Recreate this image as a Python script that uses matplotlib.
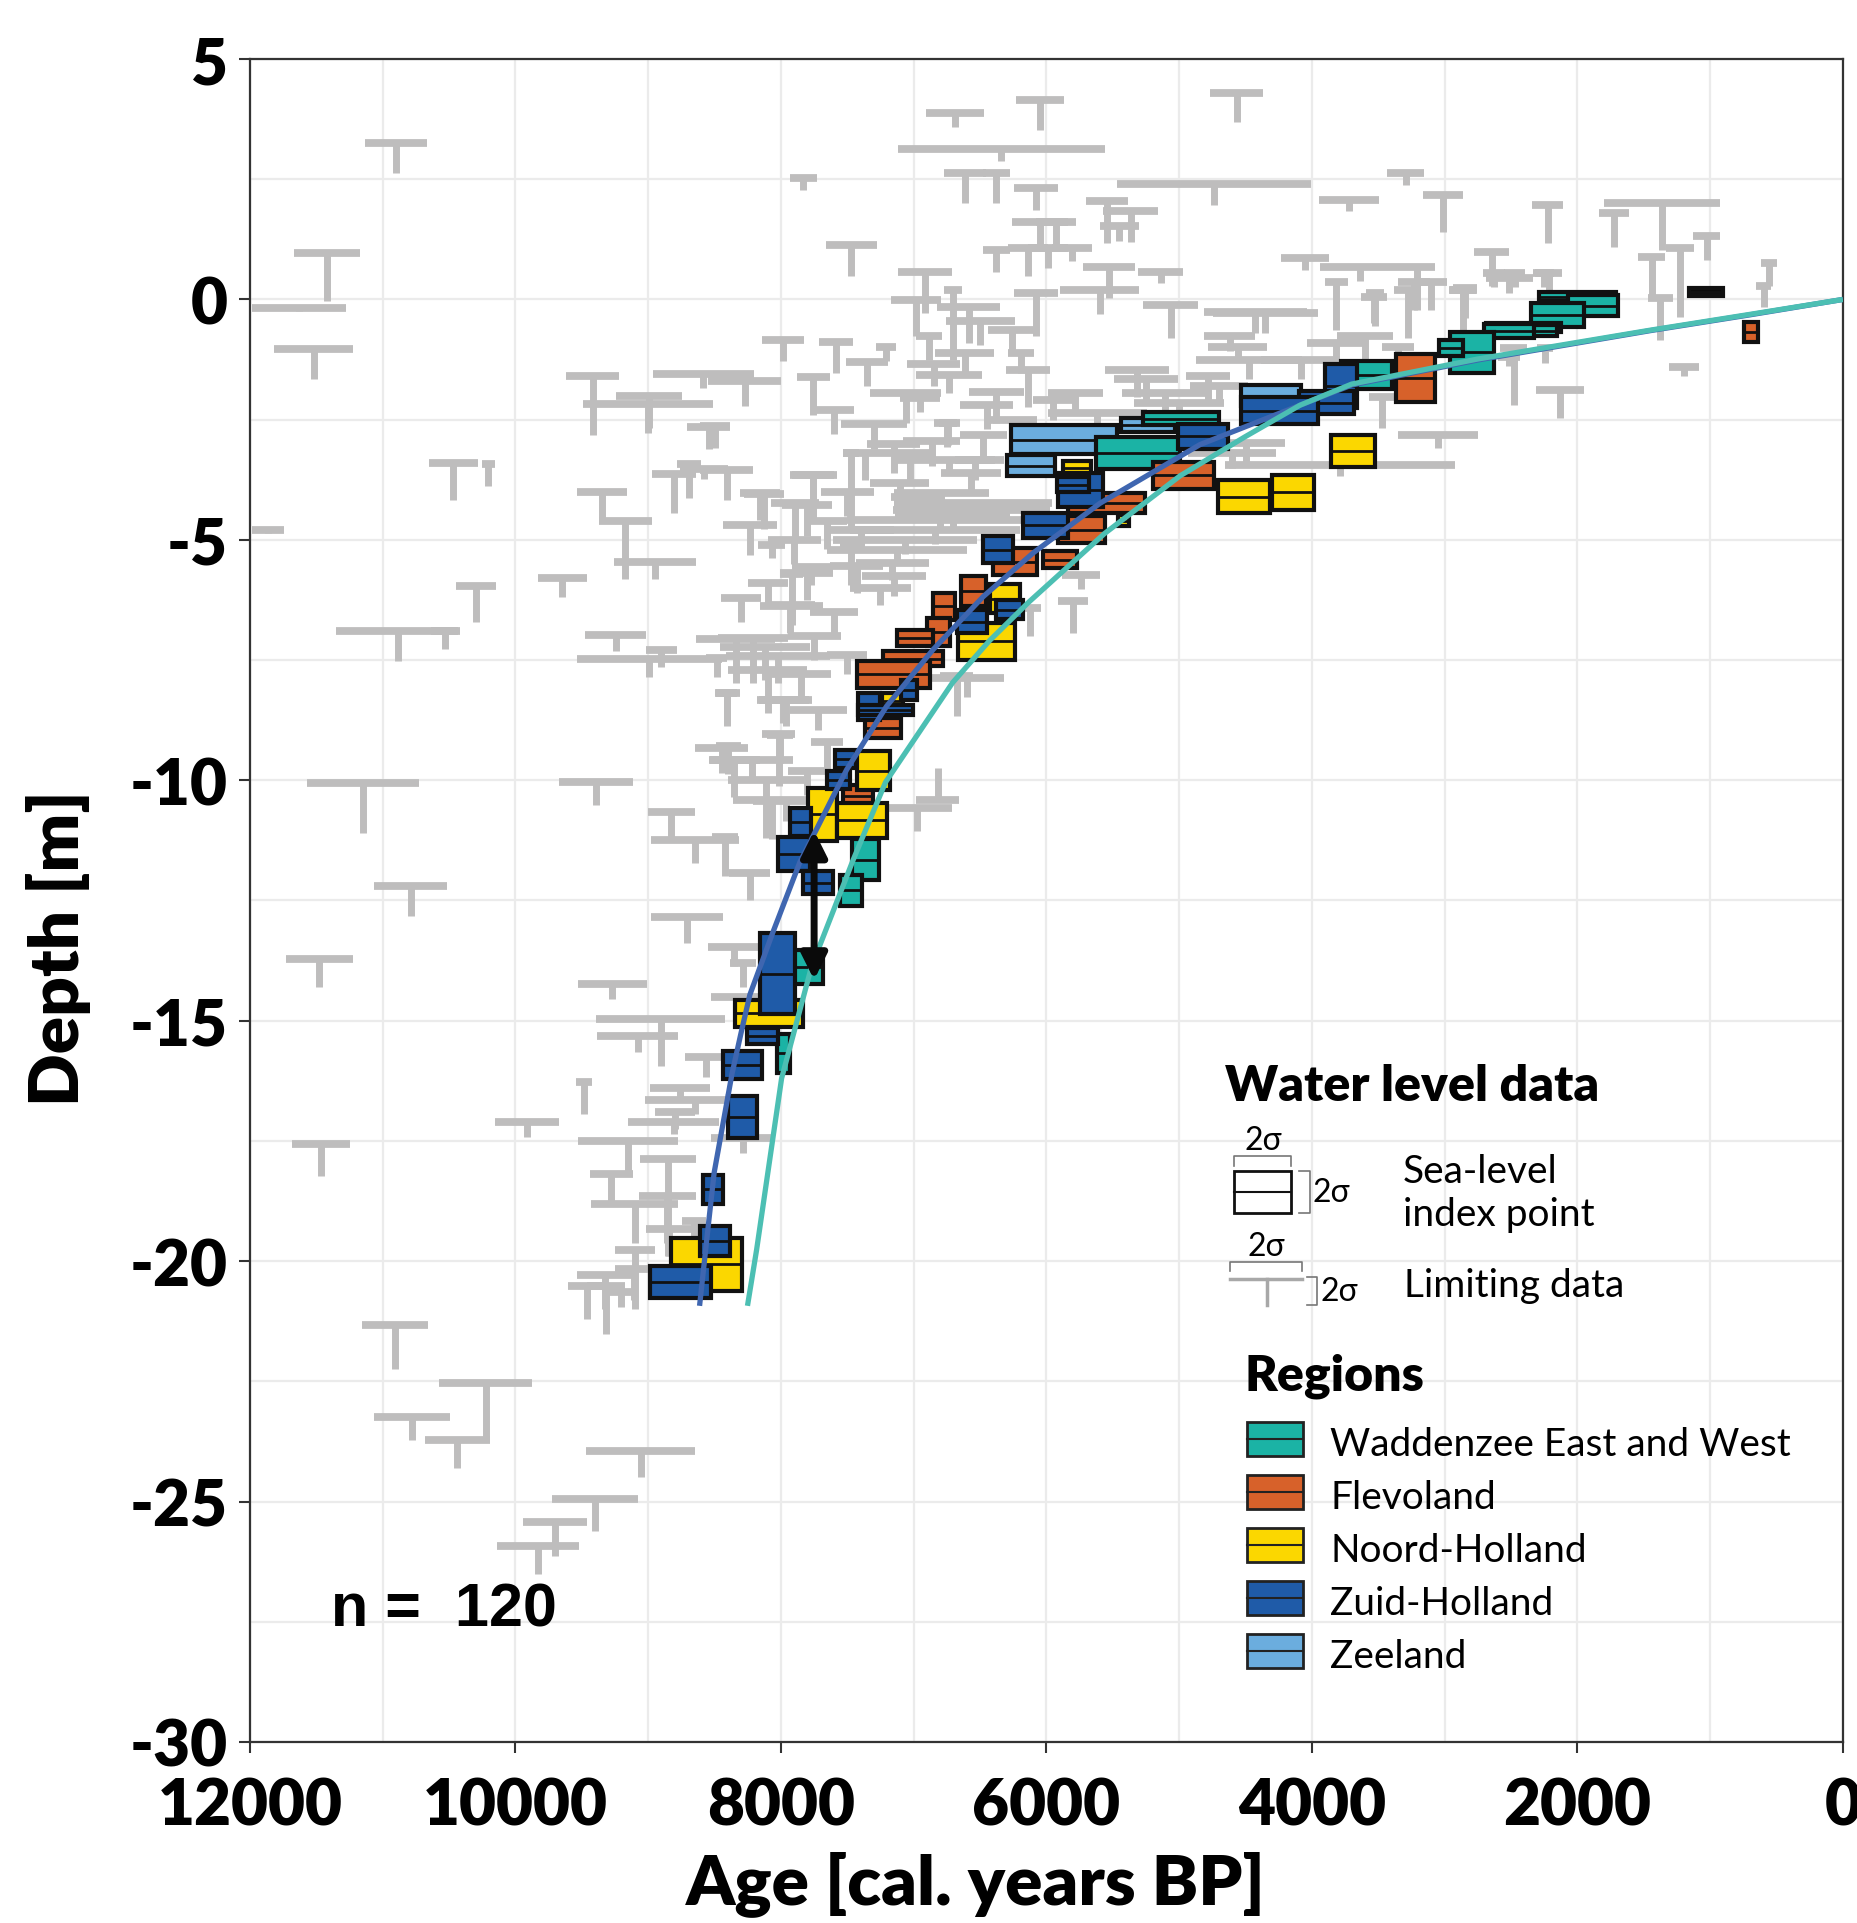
import numpy as np
import matplotlib.pyplot as plt
from matplotlib.patches import Rectangle

plt.rcParams['font.family'] = ['Lato', 'DejaVu Sans']
plt.rcParams['axes.unicode_minus'] = False

# limiting data (age centre, age half range, top depth, stem length)
lim_upper = [
    (6050, 180, 4.15, 0.63), (4565, 200, 4.29, 0.59), (6690, 220, 3.87, 0.28),
    (6340, 780, 3.12, 0.25), (10900, 230, 3.26, 0.62), (7830, 105, 2.53, 0.26),
    (6613, 156, 2.62, 0.62), (6377, 104, 2.62, 0.62), (6079, 164, 2.31, 0.45),
    (4738, 730, 2.40, 0.44), (3293, 139, 2.62, 0.24), (3721, 228, 2.07, 0.24),
    (3013, 149, 2.17, 0.76), (5544, 156, 2.05, 0.88), (5364, 208, 1.83, 0.64),
    (5450, 150, 1.52, 0.30), (6049, 208, 1.62, 0.62), (5930, 150, 1.62, 0.62),
    (6139, 150, 1.07, 0.59), (5989, 150, 1.07, 0.42), (5810, 150, 1.07, 0.28),
    (6377, 104, 1.03, 0.45), (7470, 190, 1.13, 0.64), (11420, 250, 0.96, 0.99),
    (11630, 355, -0.17, 0.06), (11520, 300, -1.03, 0.63), (6915, 202, 0.58, 0.86),
    (5529, 198, 0.68, 0.65), (5140, 168, 0.58, 0.24), (4053, 179, 0.86, 0.25),
    (3638, 298, 0.68, 0.30), (3205, 134, 0.68, 0.90), (3815, 90, 0.37, 1.00),
    (3234, 120, 0.37, 0.59), (3100, 120, 0.37, 0.59), (3278, 100, 0.20, 1.00),
    (2862, 100, 0.20, 1.00), (3533, 100, 0.06, 0.55), (4351, 395, -0.29, 0.41),
    (5065, 208, -0.11, 0.69), (5600, 300, 0.20, 0.50),
]
lim_right = [
    (2225, 114, 1.97, 0.80), (1727, 114, 1.79, 0.69), (1364, 435, 2.01, 0.98),
    (1027, 100, 1.31, 0.49), (1441, 100, 0.89, 0.90), (1228, 107, 1.07, 1.43),
    (1374, 94, 0.03, 0.87), (557, 60, 0.75, 0.48), (598, 60, 0.28, 0.43),
    (1200, 113, -1.40, 0.20), (2132, 180, -1.88, 0.59), (3047, 301, -2.82, 0.27),
    (3790, 865, -3.44, 0.24), (2646, 130, 0.99, 0.72), (2512, 174, 0.44, 0.31),
    (2217, 100, 0.55, 0.42), (2860, 107, 0.20, 0.42), (2480, 100, -1.00, 1.20),
    (2245, 60, -1.00, 0.33), (3469, 100, -2.02, 0.65), (4427, 389, -0.27, 0.43),
    (3526, 70, 0.13, 0.69), (2848, 90, 0.23, 0.62), (2629, 80, 0.55, 0.30),
    (2471, 80, 0.55, 0.30), (2255, 80, 0.55, 0.30), (2516, 80, -1.19, 0.20),
]
lim_cluster = [
    (6983, 186, -0.01, 0.76), (6704, 67, 0.20, 1.46), (6079, 164, 0.13, 0.90),
    (6584, 238, -0.15, 0.76), (6260, 179, -0.63, 0.48), (6884, 97, -0.77, 0.49),
    (7210, 74, -0.98, 0.31), (6615, 223, -1.12, 0.48), (6190, 100, -1.12, 0.40),
    (6139, 164, -1.46, 0.77), (6734, 246, -1.57, 0.38), (7061, 268, -1.95, 0.62),
    (6377, 208, -1.92, 0.65), (5781, 208, -1.95, 0.35), (6950, 150, -2.05, 0.30),
    (6750, 100, -2.57, 0.49), (5616, 372, -2.36, 0.20), (6735, 415, -3.34, 0.30),
    (6570, 225, -3.61, 0.35), (7106, 223, -3.81, 0.40), (6791, 357, -4.02, 0.30),
    (6555, 596, -4.23, 0.25), (6706, 432, -4.44, 0.30),
    (4619, 194, -0.77, 0.30), (4560, 223, -0.98, 0.30), (4474, 402, -1.26, 0.40),
    (5318, 238, -1.46, 0.56), (5250, 238, -1.66, 0.50), (5107, 327, -1.95, 0.35),
    (5000, 340, -2.15, 0.30), (4780, 165, -1.60, 0.50), (4700, 220, -1.80, 0.30),
    (4083, 298, -1.26, 0.40), (3815, 223, -0.91, 0.35), (3600, 210, -0.77, 0.50),
    (3350, 120, -0.98, 0.30), (4500, 300, -2.99, 0.40), (4600, 330, -3.20, 0.30),
    (7300, 250, -2.60, 0.50), (7150, 200, -3.00, 0.60), (7600, 150, -2.30, 0.50),
    (6450, 200, -2.20, 0.50), (6250, 180, -2.50, 0.40), (5950, 150, -2.10, 0.40),
    (6500, 260, -0.45, 0.50), (6850, 200, -1.35, 0.45), (7350, 160, -1.30, 0.50),
]
lim_mid = [
    (8497, 113, -2.64, 0.45), (8409, 201, -3.54, 0.63), (8158, 151, -4.03, 0.55),
    (8234, 201, -4.69, 0.62), (8070, 100, -5.10, 0.28), (7757, 157, -3.65, 0.93),
    (7807, 188, -4.27, 0.66), (7367, 163, -3.20, 0.55), (7028, 176, -3.20, 0.62),
    (6865, 213, -2.95, 0.52), (6740, 70, -2.57, 0.45), (6476, 176, -2.82, 0.52),
    (6538, 150, -3.34, 0.41), (6975, 195, -4.10, 0.48), (6564, 590, -4.37, 0.25),
    (6802, 702, -4.58, 0.25), (6840, 640, -4.79, 0.30), (7066, 540, -5.00, 0.30),
    (7129, 527, -5.21, 0.30), (7807, 201, -5.69, 0.56), (7430, 201, -5.55, 0.56),
    (7160, 276, -5.48, 0.35), (7150, 240, -5.76, 0.40), (7250, 230, -6.00, 0.35),
    (7932, 188, -6.35, 0.59), (8211, 264, -7.04, 0.93), (8121, 339, -7.22, 0.70),
    (8485, 80, -7.46, 0.40), (8023, 389, -7.42, 0.55), (8409, 80, -8.18, 0.70),
    (7983, 195, -8.32, 0.49), (7719, 213, -8.53, 0.42), (8008, 100, -9.05, 0.59),
    (8447, 201, -9.33, 0.51), (8221, 314, -9.57, 0.40), (8070, 289, -10.40, 0.83),
    (6677, 125, -7.84, 0.83), (6600, 280, -7.87, 0.40), (5800, 113, -6.28, 0.66),
    (6124, 80, -6.41, 0.59), (5740, 140, -5.73, 0.30), (6820, 163, -10.40, -0.66),
    (6978, 264, -10.57, 0.49),
    (7500, 200, -4.00, 0.50), (7650, 150, -4.60, 0.60), (7400, 250, -4.80, 0.40),
    (7900, 200, -5.00, 0.50), (8100, 150, -5.90, 0.40), (7600, 180, -6.50, 0.50),
    (7750, 200, -7.00, 0.50), (7500, 150, -7.40, 0.40), (8300, 150, -6.20, 0.50),
    (7850, 230, -7.80, 0.50), (7650, 120, -9.20, 0.60), (7800, 150, -9.80, 0.50),
]
lim_left = [
    (9418, 200, -1.59, 1.22), (9000, 490, -2.18, 0.60), (8994, 245, -2.00, 0.67),
    (8584, 379, -1.55, 0.30), (8271, 275, -1.69, 0.52), (7755, 126, -1.61, 0.79),
    (7985, 156, -0.84, 0.45), (7586, 130, -0.88, 0.64), (8545, 160, -2.65, 0.45),
    (10467, 186, -3.40, 0.77), (10205, 48, -3.43, 0.44), (9348, 189, -4.00, 0.60),
    (9171, 198, -4.61, 1.20), (8806, 168, -3.63, 0.82), (8690, 90, -3.43, 0.70),
    (8580, 180, -3.53, 0.20), (8128, 152, -4.04, 0.74), (7755, 174, -3.65, 0.98),
    (7895, 180, -4.23, 0.74), (11865, 123, -4.80, 0.05), (8950, 307, -5.45, 0.37),
    (9646, 183, -5.79, 0.40), (10298, 152, -5.95, 0.75), (7473, 60, -3.19, 1.56),
    (7473, 80, -5.15, 0.78), (7920, 89, -5.70, 0.96), (7770, 150, -5.56, 0.37),
]
lim_lower = [
    (10885, 465, -6.90, 0.61), (10534, 100, -6.90, 0.36), (9243, 230, -6.98, 0.33),
    (8992, 545, -7.48, 0.37), (8900, 120, -7.30, 0.35), (8403, 94, -8.18, 0.65),
    (11150, 424, -10.05, 1.04), (9396, 278, -10.03, 0.49), (8825, 178, -10.67, 0.50),
    (8648, 330, -11.24, 0.47), (10790, 275, -12.20, 0.62), (11478, 253, -13.71, 0.59),
    (9269, 261, -14.23, 0.31), (8710, 272, -12.84, 0.55), (8350, 200, -13.46, 0.40),
    (8906, 484, -14.97, 0.97), (9078, 306, -15.32, 0.33), (8561, 164, -15.76, 0.42),
    (9484, 60, -16.28, 0.65), (9913, 238, -17.11, 0.31), (11466, 218, -17.57, 0.67),
    (9151, 379, -17.50, 0.66), (7920, 240, -6.37, 0.40), (8341, 300, -7.07, 0.90),
    (8100, 300, -7.70, 0.90), (7965, 200, -8.34, 0.53), (8018, 121, -9.04, 1.07),
    (8395, 94, -9.29, 0.57), (8350, 195, -9.57, 0.78), (8113, 286, -9.99, 1.22),
    (7963, 250, -10.44, 0.40), (8422, 96, -11.17, 0.83), (8234, 154, -11.92, 0.57),
    (7857, 150, -11.50, 0.40), (8311, 215, -14.50, 0.45), (8287, 100, -13.80, 0.50),
    (8761, 228, -16.39, 0.30), (8648, 376, -16.64, 0.30), (8798, 147, -16.89, 0.37),
    (8807, 342, -17.10, 0.25), (8288, 242, -17.44, 0.31),
]
lim_bottom = [
    (8851, 209, -17.87, 2.02), (9278, 161, -18.18, 0.61), (9103, 331, -18.82, 0.80),
    (8855, 212, -18.65, 0.97), (8844, 173, -19.34, 0.55), (8655, 90, -19.17, 0.30),
    (9097, 151, -19.76, 1.24), (9107, 144, -20.17, 0.63), (9327, 209, -20.28, 0.72),
    (9463, 144, -20.52, 0.69), (9319, 144, -20.52, 1.00), (9205, 100, -20.65, 0.30),
    (10905, 250, -21.33, 0.92), (10225, 349, -22.53, 1.18), (10781, 288, -23.24, 0.47),
    (10438, 246, -23.73, 0.57), (9055, 411, -23.94, 0.56), (9400, 324, -24.95, 0.66),
    (9704, 242, -25.43, 0.70), (9832, 310, -25.93, 0.58),
]

# sea-level index points (age centre, age half range, depth centre, depth half range)
waddenzee = [
    (2000, 290, 0.06, 0.10), (1883, 188, -0.13, 0.22), (2151, 200, -0.32, 0.25),
    (2405, 280, -0.58, 0.10), (2270, 120, -0.65, 0.12), (2516, 188, -0.66, 0.14),
    (2795, 166, -1.10, 0.43), (2954, 90, -1.01, 0.17), (3587, 194, -1.57, 0.30),
    (4987, 285, -2.48, 0.13), (5311, 318, -3.20, 0.33), (7361, 100, -11.65, 0.42),
    (7474, 81, -12.29, 0.33), (7794, 113, -13.88, 0.36), (7982, 50, -15.68, 0.40),
]
flevoland = [
    (3220, 147, -1.63, 0.50), (693, 54, -0.67, 0.21), (4966, 232, -3.66, 0.28),
    (5550, 290, -4.23, 0.21), (5735, 176, -4.79, 0.28), (5898, 125, -5.41, 0.17),
    (6237, 163, -5.45, 0.28), (6546, 94, -6.07, 0.31), (6772, 81, -6.38, 0.28),
    (6815, 88, -6.92, 0.29), (6991, 138, -7.04, 0.17), (7006, 226, -7.47, 0.16),
    (7154, 276, -7.80, 0.28), (7232, 138, -8.92, 0.21), (7420, 113, -10.32, 0.23),
]
noord_holland = [
    (3691, 168, -3.15, 0.34), (4510, 195, -4.10, 0.35), (4142, 158, -4.01, 0.36),
    (5770, 108, -3.51, 0.15), (5420, 40, -4.60, 0.12), (6312, 113, -6.22, 0.30),
    (6453, 213, -7.11, 0.38), (7160, 81, -8.36, 0.17), (7304, 125, -9.80, 0.40),
    (7687, 107, -10.71, 0.55), (7392, 188, -10.83, 0.36), (8090, 257, -14.85, 0.29),
    (8230, 80, -15.95, 0.25), (8563, 267, -20.07, 0.55),
]
zuid_holland = [
    (3780, 120, -1.80, 0.45), (3891, 208, -2.15, 0.24), (4244, 290, -2.31, 0.29),
    (4820, 190, -2.85, 0.26), (5740, 169, -3.96, 0.35), (5800, 120, -3.85, 0.15),
    (6005, 169, -4.70, 0.26), (6365, 113, -5.21, 0.28), (6280, 100, -6.45, 0.20),
    (6564, 113, -6.70, 0.24), (7036, 60, -8.12, 0.21), (7337, 83, -8.46, 0.28),
    (7210, 208, -8.54, 0.10), (7512, 81, -9.55, 0.19), (7568, 88, -10.00, 0.19),
    (7851, 81, -10.87, 0.29), (7902, 119, -11.53, 0.36), (7719, 113, -12.13, 0.24),
    (8026, 132, -14.02, 0.85), (8139, 119, -15.32, 0.17), (8289, 144, -15.93, 0.29),
    (8289, 107, -17.00, 0.43), (8512, 72, -18.51, 0.31), (8497, 115, -19.58, 0.31),
    (8757, 230, -20.43, 0.33),
]
zeeland = [
    (4310, 225, -2.00, 0.22), (5236, 205, -2.61, 0.14), (5868, 400, -2.92, 0.30),
    (6115, 180, -3.46, 0.22),
]
black_points = [(1032, 127, 0.16, 0.08)]

# fitted curves
blue_age = [8613, 8542, 8503, 8369, 8300, 8234, 8059, 7857, 7505, 7204, 6853, 6476,
            6099, 5597, 4844, 4090, 3700, 2753, 1454, 700, 0]
blue_depth = [-20.93, -19.13, -18.16, -16.11, -15.25, -14.46, -13.15, -11.70, -9.78,
              -8.46, -7.28, -6.18, -5.27, -4.24, -3.02, -2.20, -1.78, -1.26, -0.65,
              -0.32, 0]
teal_age = [8252, 8183, 7995, 7770, 7455, 7212, 6707, 6430, 6135, 5563, 4994, 4500,
            4090, 3700, 2753, 1454, 700, 0]
teal_depth = [-20.93, -19.76, -16.20, -13.88, -11.65, -10.04, -7.97, -7.10, -6.30,
              -4.87, -3.67, -2.85, -2.20, -1.76, -1.24, -0.64, -0.31, 0]

region_names = ['Waddenzee East and West', 'Flevoland', 'Noord-Holland',
                'Zuid-Holland', 'Zeeland']
region_colors = ['#1bb3a5', '#d7612a', '#fbd700', '#1f5ba8', '#6badde']
GRAY = '#bebdbd'
EDGE = '#111111'

fig = plt.figure(figsize=(18.57, 19.24), dpi=100)
ax = fig.add_axes([0.1346, 0.0941, 0.8578, 0.8747])
ax.set_xlim(12000, 0)
ax.set_ylim(-30, 5)

ax.set_xticks(np.arange(0, 12001, 2000))
ax.set_xticks(np.arange(1000, 12000, 2000), minor=True)
ax.set_yticks(np.arange(-30, 6, 5))
ax.set_yticks(np.arange(-27.5, 5, 5), minor=True)
ax.grid(which='both', color='#ebebeb', lw=1.6)
ax.set_axisbelow(True)
ax.tick_params(which='minor', length=0)
ax.tick_params(which='major', length=8, width=1.5, color='#333333', labelsize=46)
ax.tick_params(axis='x', pad=17)
ax.tick_params(axis='y', pad=8)
for lbl in ax.get_xticklabels() + ax.get_yticklabels():
    lbl.set_fontweight('heavy')
for s in ax.spines.values():
    s.set_color('#333333')
    s.set_linewidth(1.6)

# limiting data as T shapes
lim = np.array(lim_upper + lim_right + lim_cluster + lim_mid + lim_left + lim_lower + lim_bottom)
l_age, l_err, l_top, l_stem = lim.T
ax.hlines(l_top, l_age - l_err, l_age + l_err, colors=GRAY, lw=5.6, zorder=2)
ax.vlines(l_age, l_top - l_stem, l_top, colors=GRAY, lw=5, zorder=2)

# index points as boxes
groups = [(zeeland, region_colors[4]), (waddenzee, region_colors[0]),
          (flevoland, region_colors[1]), (noord_holland, region_colors[2]),
          (zuid_holland, region_colors[3]), (black_points, '#0b0b0b')]
for rows, col in groups:
    for a, h, d, dh in rows:
        ax.add_patch(Rectangle((a - h, d - dh), 2 * h, 2 * dh, facecolor=col,
                               edgecolor=EDGE, lw=3, zorder=3))
        ax.plot([a - h, a + h], [d, d], color=EDGE, lw=2, zorder=3)

ax.plot(blue_age, blue_depth, color='#3f66b0', lw=3.8, zorder=4, solid_capstyle='butt')
ax.plot(teal_age, teal_depth, color='#4cbfb3', lw=3.8, zorder=4, solid_capstyle='butt')

ax.annotate('', xy=(7750, -14.15), xytext=(7750, -11.05),
            arrowprops=dict(arrowstyle='<|-|>,head_length=0.7,head_width=0.35',
                            color='#0a0a0a', lw=5, shrinkA=0, shrinkB=0,
                            mutation_scale=22), zorder=5)

ax.text(11390, -27.58, 'n =  120', fontsize=44, fontweight='bold',
        family=['Liberation Sans', 'DejaVu Sans'], va='baseline', ha='left', zorder=6)

ax.set_xlabel('Age [cal. years BP]', fontsize=50, fontweight='heavy')
ax.xaxis.set_label_coords(0.4557, -0.064)
ax.set_ylabel('Depth [m]', fontsize=50, fontweight='heavy')
ax.yaxis.set_label_coords(-0.100, 0.472)

# legend drawn in pixel space
lax = fig.add_axes([0, 0, 1, 1], facecolor='none')
lax.set_xlim(0, 1857)
lax.set_ylim(1924, 0)
lax.axis('off')

lax.text(1225, 1101, 'Water level data', fontsize=36, fontweight='heavy', va='baseline')
lax.add_patch(Rectangle((1234, 1172), 57, 42, fill=False, ec=EDGE, lw=2))
lax.plot([1234, 1291], [1193, 1193], color=EDGE, lw=1.5)
lax.plot([1234, 1234, 1291, 1291], [1167, 1157, 1157, 1167], color='#777777', lw=1.2)
lax.text(1263, 1150, '2σ', fontsize=23, ha='center', va='baseline')
lax.plot([1299, 1310, 1310, 1299], [1172, 1172, 1214, 1214], color='#777777', lw=1.2)
lax.text(1313, 1193, '2σ', fontsize=23, va='center')
lax.text(1403, 1183, 'Sea-level', fontsize=28, va='baseline')
lax.text(1403, 1226, 'index point', fontsize=28, va='baseline')

lax.plot([1230, 1230, 1302, 1302], [1272, 1263, 1263, 1272], color='#777777', lw=1.2)
lax.text(1266, 1256, '2σ', fontsize=23, ha='center', va='baseline')
lax.plot([1230, 1302], [1280, 1280], color='#a8a8a8', lw=2.5)
lax.plot([1267, 1267], [1280, 1306], color='#a8a8a8', lw=2.5)
lax.plot([1307, 1317, 1317, 1307], [1278, 1278, 1306, 1306], color='#777777', lw=1.2)
lax.text(1321, 1292, '2σ', fontsize=23, va='center')
lax.text(1404, 1297, 'Limiting data', fontsize=28, va='baseline')

lax.text(1245, 1391, 'Regions', fontsize=36, fontweight='heavy', va='baseline')
row_y = [1440, 1493, 1546, 1599, 1652]
for name, col, yc in zip(region_names, region_colors, row_y):
    lax.add_patch(Rectangle((1247, yc - 17), 56, 34, fc=col, ec='#222222', lw=2))
    lax.plot([1247, 1303], [yc, yc], color='#222222', lw=1.5)
    lax.text(1330, yc + 16, name, fontsize=28, va='baseline')

fig.savefig('out.png', dpi=100, facecolor='white')
